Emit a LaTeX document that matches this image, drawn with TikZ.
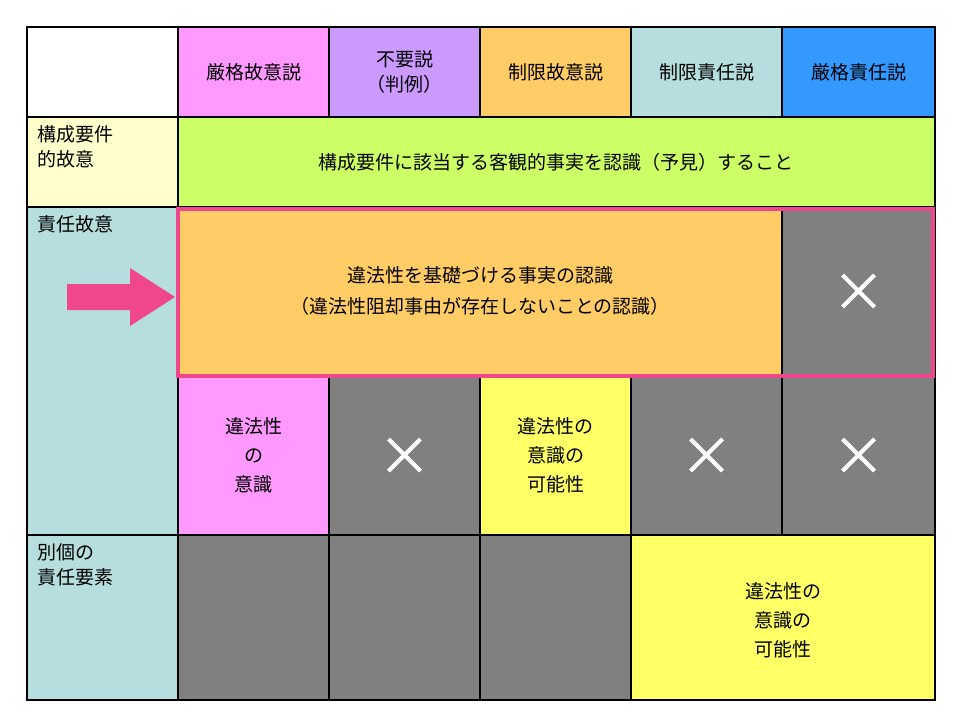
\documentclass[tikz,border=0pt]{standalone}
\usepackage{fontspec}
\setmainfont{Noto Sans CJK JP}
\begin{document}
\begin{tikzpicture}[x=1pt,y=-1pt,
 cell/.style={draw=black,line width=1.2pt},
 txt/.style={font=\fontsize{19}{25}\selectfont,align=center,inner sep=0pt},
 lt/.style={font=\fontsize{19}{25}\selectfont,align=left,anchor=north west,inner sep=0pt},
 cross/.style={white,line width=4pt}]
\useasboundingbox (0,0) rectangle (960,720);
\definecolor{cpink}{HTML}{FF99FF}\definecolor{cpurp}{HTML}{CC99FF}
\definecolor{corng}{HTML}{FFCC66}\definecolor{cteal}{HTML}{B7DEDE}
\definecolor{cblue}{HTML}{3399FF}\definecolor{cgrn}{HTML}{CCFF66}
\definecolor{ccrm}{HTML}{FFFFCC}\definecolor{cgray}{HTML}{808080}
\definecolor{cyel}{HTML}{FFFF66}\definecolor{cmag}{HTML}{F0468C}
% header row
\fill[white] (27,27) rectangle (178,117);
\fill[cpink] (178,27) rectangle (329,117);
\fill[cpurp] (329,27) rectangle (480,117);
\fill[corng] (480,27) rectangle (631,117);
\fill[cteal] (631,27) rectangle (782,117);
\fill[cblue] (782,27) rectangle (935,117);
% row 2
\fill[ccrm] (27,117) rectangle (178,207);
\fill[cgrn] (178,117) rectangle (935,207);
% left teal
\fill[cteal] (27,207) rectangle (178,700);
% row 3
\fill[corng] (178,207) rectangle (782,376);
\fill[cgray] (782,207) rectangle (935,376);
% row 4
\fill[cpink] (178,376) rectangle (329,535);
\fill[cgray] (329,376) rectangle (480,535);
\fill[cyel] (480,376) rectangle (631,535);
\fill[cgray] (631,376) rectangle (935,535);
% row 5
\fill[cgray] (178,535) rectangle (631,700);
\fill[cyel] (631,535) rectangle (935,700);
% grid lines
\draw[cell] (27,27) rectangle (935,700);
\foreach \x in {178,329,480,631,782} \draw[cell] (\x,27) -- (\x,117);
\draw[cell] (27,117) -- (935,117);
\draw[cell] (27,207) -- (935,207);
\draw[cell] (178,117) -- (178,700);
\draw[cell] (782,207) -- (782,376);
\draw[cell] (178,376) -- (935,376);
\foreach \x in {329,480,631,782} \draw[cell] (\x,376) -- (\x,535);
\draw[cell] (27,535) -- (935,535);
\foreach \x in {329,480,631} \draw[cell] (\x,535) -- (\x,700);
% texts
\node[txt] (h1) at (253.5,72) {厳格故意説};
\node[txt] (h2) at (404.5,72) {不要説\\（判例）};
\node[txt] (h3) at (555.5,72) {制限故意説};
\node[txt] (h4) at (706.5,72) {制限責任説};
\node[txt] (h5) at (858.5,72) {厳格責任説};
\node[lt] (l1) at (37,125) {構成要件\\的故意};
\node[lt] (l2) at (37,215) {責任故意};
\node[lt] (l3) at (37,543) {別個の\\責任要素};
\node[txt] (r2) at (556,162) {構成要件に該当する客観的事実を認識（予見）すること};
\node[txt] (r3) at (480,291) {違法性を基礎づける事実の認識\\[6pt]（違法性阻却事由が存在しないことの認識）};
\node[txt] (c1) at (253.5,455) {違法性\\[4pt]の\\[4pt]意識};
\node[txt] (c3) at (555.5,455) {違法性の\\[4pt]意識の\\[4pt]可能性};
\node[txt] (c5) at (783,620) {違法性の\\[4pt]意識の\\[4pt]可能性};
% crosses
\foreach \cx/\cy in {858.5/291, 404.5/455, 706.5/455, 858.5/455}
  \draw[cross] (\cx-16,\cy-16) -- (\cx+16,\cy+16) (\cx-16,\cy+16) -- (\cx+16,\cy-16);
% highlight
\draw[cmag,line width=4.5pt] (178,209) rectangle (933,376);
% arrow
\coordinate (at) at (175,297);
\fill[cmag] (67,284) -- (130,284) -- (130,268) -- (at) -- (130,326) -- (130,310) -- (67,310) -- cycle;
\end{tikzpicture}
\end{document}
